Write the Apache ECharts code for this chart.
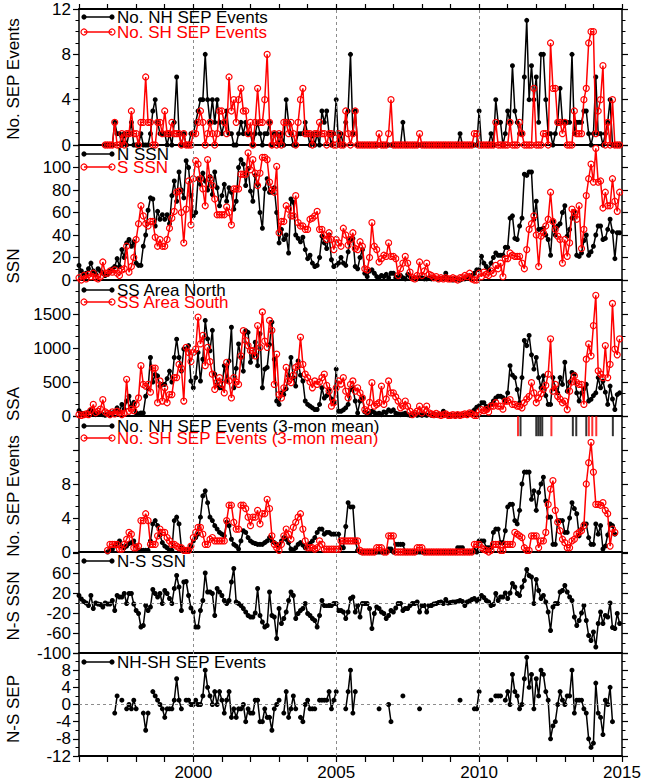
<!DOCTYPE html>
<html>
<head>
<meta charset="utf-8">
<script src="https://cdn.jsdelivr.net/npm/echarts@6.0.0/dist/echarts.min.js"></script>
<style>
  html, body { margin: 0; padding: 0; background: #fff; }
  #chart { width: 654px; height: 781px; }
</style>
</head>
<body>
<div id="chart"></div>
<script>
// monthly series, Jan 1996 .. Dec 2014 (12 values per row = one year)
const startYear = 1996
const refYears = [2000, 2005, 2010]

const nhSep = [
  null, null, null, null, null, null, null, null, null, null, null, 0,
  0, 0, 0, 2, 1, 1, 0, 1, 0, 1, 2, 0,
  0, 0, 1, 0, 0, 0, 1, 3, 4, 2, 1, 1,
  1, 0, 1, 0, 2, 6, 1, 0, 1, 0, 0, 1,
  1, 2, 3, 4, 4, 8, 4, 2, 4, 2, 4, 2,
  1, 2, 3, 1, 1, 0, 0, 1, 2, 1, 2, 1,
  1, 0, 1, 2, 1, 0, 1, 1, 2, 0, 1, 1,
  0, 1, 0, 4, 2, 1, 0, 0, 1, 1, 1, 2,
  1, 0, 1, 0, 1, 0, 3, 2, 3, 1, 0, 1,
  4, 0, 1, 0, 2, 3, 8, 1, 3, 0, 0, 0,
  0, 0, 0, 0, 0, 0, 0, 0, 0, 0, 0, 0,
  0, 0, 0, 0, 2, 0, 0, 0, 0, 0, 0, 0,
  0, 0, 0, 0, 0, 0, 0, 0, 0, 0, 0, 0,
  0, 0, 0, 0, 1, 0, 0, 0, 0, 0, 0, 0,
  3, 0, 0, 0, 0, 1, 0, 4, 2, 2, 0, 1,
  3, 2, 7, 3, 2, 1, 1, 6, 11, 4, 7, 4,
  6, 2, 8, 8, 4, 1, 1, 0, 1, 2, 5, 2,
  2, 2, 2, 8, 1, 2, 2, 2, 3, 3, 1, 0,
  1, 6, 1, 1, 0, 1, 2, 4, 0, 0, 0, 0
]
const shSep = [
  null, null, null, null, null, null, null, null, null, null, null, 0,
  0, 0, 0, 2, 0, 0, 1, 0, 1, 1, 3, 1,
  1, 0, 2, 2, 6, 2, 2, 0, 0, 2, 2, 1,
  3, 1, 1, 2, 1, 1, 1, 0, 1, 0, 0, 0,
  1, 1, 2, 3, 2, 0, 1, 2, 1, 0, 1, 3,
  3, 2, 1, 6, 3, 4, 2, 4, 5, 3, 3, 1,
  2, 0, 2, 5, 2, 2, 4, 8, 2, 0, 1, 0,
  1, 0, 2, 2, 1, 2, 1, 0, 2, 4, 5, 1,
  1, 1, 0, 1, 1, 2, 1, 1, 0, 1, 1, 0,
  0, 1, 0, 0, 3, 1, 0, 1, 3, 0, 0, 0,
  0, 0, 0, 0, 0, 0, 1, 0, 0, 0, 1, 4,
  0, 0, 0, 0, 0, 0, 0, 0, 0, 0, 0, 1,
  0, 0, 0, 0, 0, 0, 0, 0, 0, 0, 0, 0,
  0, 0, 0, 0, 0, 0, 0, 0, 0, 0, 1, 1,
  0, 0, 0, 0, 0, 0, 0, 2, 0, 0, 0, 0,
  0, 2, 0, 0, 0, 2, 1, 0, 0, 0, 0, 5,
  0, 0, 0, 1, 1, 0, 9, 5, 5, 2, 2, 1,
  2, 0, 0, 0, 3, 1, 1, 1, 4, 5, 9, 10,
  10, 1, 3, 4, 7, 0, 2, 0, 4, 0, 0, 0
]

const nSsn = [
  13, 8, 5, 6, 10, 15, 8, 5, 10, 8, 6, 4,
  5, 8, 10, 12, 19, 12, 27, 20, 33, 36, 30, 34,
  15, 13, 13, 30, 40, 62, 73, 72, 48, 61, 54, 58,
  54, 58, 50, 75, 88, 70, 96, 80, 73, 106, 100, 75,
  57, 60, 90, 85, 95, 88, 80, 92, 76, 96, 82, 66,
  75, 85, 70, 82, 78, 63, 70, 100, 107, 103, 84, 99,
  79, 70, 93, 85, 60, 46, 81, 90, 78, 78, 82, 60,
  33, 45, 36, 40, 24, 72, 69, 40, 37, 34, 38, 27,
  19, 22, 15, 12, 13, 20, 39, 33, 28, 40, 18, 12,
  13, 15, 20, 15, 13, 25, 36, 37, 12, 10, 20, 27,
  6, 3, 8, 9, 6, 3, 2, 4, 3, 5, 2, 6,
  6, 2, 3, 4, 2, 1, 5, 3, 1, 2, 1, 2,
  2, 1, 1, 2, 1, 2, 1, 1, 1, 2, 6, 1,
  1, 0, 1, 1, 0, 1, 1, 2, 3, 4, 6, 9,
  9, 21, 15, 12, 9, 15, 20, 24, 22, 22, 22, 29,
  29, 55, 57, 37, 36, 48, 55, 94, 93, 96, 96, 54,
  70, 45, 45, 46, 40, 36, 22, 52, 40, 48, 50, 60,
  66, 39, 45, 55, 61, 22, 21, 24, 35, 40, 22, 25,
  30, 40, 48, 48, 36, 37, 45, 54, 43, 19, 42, 42
]
const sSsn = [
  2, 0, 4, 1, 5, 3, 6, 2, 1, 3, 16, 6,
  6, 8, 7, 9, 6, 4, 9, 10, 30, 7, 12, 20,
  36, 50, 66, 57, 50, 48, 52, 52, 38, 30, 36, 30,
  30, 36, 46, 55, 61, 78, 79, 60, 33, 63, 88, 49,
  90, 106, 103, 90, 81, 66, 107, 90, 84, 72, 58, 58,
  58, 58, 65, 60, 49, 81, 81, 81, 94, 94, 94, 113,
  98, 107, 95, 84, 95, 109, 109, 107, 87, 80, 78, 101,
  42, 52, 52, 66, 63, 57, 57, 75, 51, 48, 48, 45,
  45, 54, 55, 57, 61, 45, 45, 40, 36, 42, 36, 27,
  36, 33, 30, 46, 40, 31, 36, 42, 28, 27, 34, 30,
  10, 9, 20, 51, 30, 27, 16, 19, 22, 21, 33, 21,
  21, 19, 4, 10, 15, 21, 15, 7, 2, 1, 4, 16,
  4, 8, 15, 5, 4, 2, 3, 1, 2, 1, 2, 1,
  1, 2, 1, 0, 2, 2, 4, 3, 6, 1, 0, 0,
  6, 3, 7, 5, 4, 8, 6, 13, 10, 15, 3, 19,
  19, 24, 22, 21, 21, 21, 15, 10, 27, 45, 50, 57,
  40, 12, 39, 42, 48, 54, 78, 52, 45, 39, 36, 15,
  36, 21, 33, 63, 60, 54, 66, 28, 45, 75, 90, 103,
  87, 117, 87, 88, 64, 78, 66, 66, 90, 70, 61, 78
]

const nSsa = [
  80, 40, 30, 20, 60, 90, 40, 20, 50, 30, 20, 10,
  30, 50, 40, 70, 120, 60, 170, 100, 220, 290, 150, 200,
  45, 30, 45, 45, 290, 400, 860, 500, 610, 590, 440, 465,
  465, 550, 660, 500, 860, 1130, 860, 660, 985, 985, 1035, 515,
  415, 565, 935, 515, 835, 1405, 1135, 960, 1260, 615, 465, 415,
  415, 740, 515, 810, 1305, 415, 700, 1060, 860, 660, 1255, 1230,
  790, 885, 1085, 740, 1210, 415, 690, 715, 1050, 1380, 835, 220,
  170, 340, 315, 400, 590, 860, 565, 440, 810, 600, 515, 220,
  170, 145, 120, 95, 95, 170, 415, 265, 300, 390, 250, 195,
  690, 70, 70, 90, 120, 170, 390, 415, 220, 45, 220, 265,
  60, 40, 30, 70, 50, 30, 40, 20, 60, 50, 90, 70,
  90, 40, 30, 20, 30, 40, 20, 10, 20, 30, 10, 20,
  10, 20, 10, 20, 10, 30, 10, 20, 20, 70, 20, 10,
  10, 5, 10, 20, 15, 10, 20, 30, 40, 60, 90, 130,
  150, 195, 195, 140, 120, 170, 220, 265, 290, 290, 270, 220,
  340, 740, 600, 565, 390, 195, 565, 1110, 1035, 1185, 900, 690,
  860, 565, 415, 590, 300, 170, 170, 565, 400, 340, 565, 465,
  790, 365, 500, 640, 615, 340, 220, 340, 400, 465, 220, 245,
  300, 340, 565, 415, 515, 350, 170, 440, 250, 95, 315, 340
]
const sSsa = [
  20, 10, 20, 30, 20, 80, 170, 50, 70, 100, 240, 60,
  40, 20, 60, 30, 70, 50, 20, 40, 540, 70, 100, 80,
  170, 265, 740, 465, 440, 465, 350, 705, 705, 195, 515, 220,
  415, 195, 315, 315, 565, 565, 760, 700, 220, 1010, 935, 800,
  935, 985, 1455, 1060, 1185, 740, 1010, 800, 615, 390, 500, 565,
  465, 340, 790, 515, 265, 565, 500, 465, 885, 1255, 1110, 1035,
  960, 960, 885, 1330, 1010, 1530, 1100, 1010, 1405, 1260, 465, 910,
  315, 265, 415, 715, 515, 490, 600, 715, 740, 1160, 760, 615,
  565, 500, 415, 515, 465, 500, 565, 615, 450, 365, 145, 195,
  415, 515, 470, 565, 365, 265, 465, 515, 365, 415, 340, 265,
  95, 70, 200, 490, 145, 170, 195, 440, 170, 250, 515, 340,
  340, 280, 220, 120, 145, 220, 145, 70, 20, 40, 70, 145,
  45, 90, 145, 45, 30, 20, 40, 20, 10, 20, 30, 10,
  10, 20, 10, 20, 10, 20, 30, 20, 45, 30, 10, 10,
  60, 95, 80, 95, 60, 145, 145, 195, 145, 145, 100, 220,
  220, 240, 170, 170, 145, 145, 120, 195, 250, 290, 490, 340,
  195, 265, 330, 390, 450, 615, 1135, 365, 465, 290, 250, 195,
  220, 95, 365, 500, 590, 490, 465, 465, 170, 835, 1060, 885,
  1330, 1775, 665, 615, 565, 1035, 565, 760, 1655, 985, 900, 1135
]

const nhSep3 = [
  null, null, null, null, null, null, null, null, null, null, null, null,
  0, 0.3, 0.3, 0.7, 1, 1.3, 0.7, 0.5, 0.7, 1, 1.1, 1.3,
  0.7, 0.2, 0.2, 0.2, 0.2, 0.2, 1.3, 3.3, 3.7, 3.1, 2, 1.1,
  0.7, 0.5, 0.2, 0.2, 3.7, 4.1, 3.3, 0.5, 0.2, 0.2, 0.2, 0.7,
  1.3, 1.7, 2.1, 4.1, 6.6, 7.2, 5.8, 4.1, 3.7, 3.1, 2.7, 2.3,
  2.1, 1.9, 3.5, 3.1, 1.5, 0.9, 0.7, 0.35, 1.3, 2.5, 2.3, 1.7,
  1.3, 1.1, 1, 0.9, 0.9, 0.9, 1.1, 1.3, 1.7, 1.3, 1.1, 0.9,
  0.7, 1.3, 1.7, 1.5, 1.1, 0.35, 0.2, 0.5, 0.9, 1.1, 0.8, 0.5,
  0.7, 1, 1.3, 1.7, 2.3, 2.7, 2.7, 2.1, 2.3, 2.3, 2.1, 2.1,
  2.1, 2.1, 0.5, 0.5, 3, 5.8, 5.3, 5.3, 1.3, 0.2, 0, 0,
  0, 0, 0, 0, 0, 0, 0, 0, 0, 0, 0.35, 0.35,
  0, 0.9, 0.9, 0.9, 0.9, 0, 0, 0, 0, 0, 0, 0,
  0, 0, 0, 0, 0, 0, 0, 0, 0, 0, 0, 0,
  0, 0, 0, 0.5, 0.5, 0.5, 0, 0, 0, 0, 0.2, 0,
  1.3, 1.3, 1.3, 0.5, 0.5, 0.5, 2.3, 2.7, 2.7, 1.1, 1.1, 2.5,
  5.3, 5.6, 5.6, 3.7, 3.3, 4.9, 8, 9.4, 9.4, 9.4, 6.2, 7.2,
  4.9, 7, 8, 8.8, 6, 4.1, 4.1, 0.9, 0.9, 3.7, 3.7, 3.7,
  2.3, 2.3, 4, 5.8, 5.1, 4.5, 1.9, 2.7, 3.3, 3.3, 1.7, 0.9,
  0.9, 3.3, 2.1, 3.1, 0.35, 0.7, 2, 3.3, 3.1, 2.1, null, null
]
const shSep3 = [
  null, null, null, null, null, null, null, null, null, null, null, null,
  0.2, 0.9, 0.9, 0.9, 0.9, 0.35, 0.35, 0.9, 1.5, 2.3, 2.1, 0.5,
  0.5, 0.7, 3.7, 3.7, 4.5, 3.7, 0.9, 0.9, 0.9, 1.9, 2.7, 2.3,
  2.3, 1.7, 1.3, 0.9, 0.9, 0.7, 0.5, 0.5, 0.2, 0.2, 0.2, 0.7,
  1.7, 2.3, 2.9, 2.9, 2.1, 0.9, 0.9, 1.5, 1.7, 1.3, 1.3, 1.3,
  1.3, 1.3, 3.7, 5.5, 5.5, 3.5, 2.7, 2.7, 5.5, 5.5, 5.1, 4.1,
  3.1, 4.1, 4.1, 4.9, 3.3, 4.5, 4.5, 6.2, 5.1, 1.9, 0.9, 0.5,
  0.2, 0.9, 1.9, 2.7, 2.1, 1.5, 2.9, 3.5, 4.1, 4.5, 2.7, 1.3,
  0.5, 0.5, 0.5, 0.35, 0.5, 1.3, 0.9, 0.35, 0.35, 0.35, 0.35, 0.35,
  0.35, 0.35, 1.3, 1.3, 1.3, 1.3, 1.3, 1.3, 1.3, 1.3, 0.2, 0,
  0, 0, 0, 0, 0, 0.5, 0.5, 0.5, 0, 0, 1.9, 1.9,
  1.9, 0, 0, 0, 0, 0, 0, 0, 0, 0, 0.5, 0.5,
  0.5, 0, 0, 0, 0, 0, 0, 0, 0, 0, 0, 0,
  0, 0, 0, 0, 0, 0, 0, 0, 0, 0, 0.9, 0.9,
  0.9, 0.5, 0.3, 0.2, 0, 0.2, 0.9, 0.9, 0.9, 0.2, 0.2, 0.9,
  0.9, 0.9, 0.9, 2.3, 2.1, 1.9, 1.7, 0.5, 0.2, 0.2, 1.9, 1.9,
  1.9, 0.5, 1.3, 1.3, 2.3, 5.6, 7.4, 8.4, 4.9, 3.5, 2.5, 1.5,
  1.1, 0.5, 0.5, 1.3, 1.5, 2.1, 2.3, 2.5, 3.1, 8, 10.5, 12.9,
  9.4, 5.6, 5.6, 5.5, 5.8, 4.9, 4.5, 0.7, 2.7, 2.3, null, null
]
// event marks along the top of the 3-month panel (decimal year)
const nhEventTimes = [2011.45, 2012.0, 2012.07, 2012.14, 2012.21, 2013.28, 2013.4, 2013.75, 2014.68]
const shEventTimes = [2011.36, 2012.53, 2013.84, 2013.96, 2014.1]
const eventLevel = 14.8

const nsSsn = [
  15, 8, 3, 0, -5, 15, -11, 0, -2, -3, -8, 0,
  -2, -2, 5, -15, 15, 12, 12, 19, -1, 19, 19, -2,
  -15, -21, -48, -45, -5, -15, -8, 27, 19, 12, 19, -1,
  25, 19, 9, -1, 29, 55, 32, -15, 42, 43, 15, -10,
  -18, -48, -48, -15, 5, 60, 22, 22, 19, -25, 29, 22,
  15, 5, -1, 5, 42, 69, 2, -1, -5, -11, -18, -25,
  -28, -28, -20, 29, -25, -38, -48, -45, 22, -25, -28, -71,
  -11, -41, -31, -18, 5, 22, 15, -31, -21, -15, -11, -1,
  -21, -25, -31, -35, -48, -25, 5, -5, -5, -5, -5, -1,
  -1, -15, -15, -18, -31, -18, 9, 12, -18, -5, -28, -1,
  -1, -1, -11, -51, -21, -8, -11, -18, -21, -31, -25, -15,
  -18, -10, -1, -1, -15, -11, -11, -5, -1, -1, 2, -18,
  -5, -5, -18, -5, -5, -2, -1, 1, 2, -1, 7, 0,
  1, 2, 2, 3, 5, 3, -5, 2, 4, 7, 9, 5,
  8, 15, 11, 5, 2, -5, -3, 19, 5, 12, 12, 20,
  9, 20, 39, 32, 19, 15, 32, 45, 67, 55, 52, -1,
  47, 25, 9, 15, 2, -18, -55, -8, -1, -1, 22, 25,
  35, 22, 12, 5, -28, -45, -35, -20, -5, -35, -65, -75,
  -58, -88, -41, -18, -41, -25, -28, 0, -49, -51, -21, -41
]
const nsSep = [
  null, null, null, null, null, null, null, null, null, null, null, null,
  null, null, null, -2, 2, null, 1, null, -1, 0, -1, 1,
  -1, null, null, -2, -6, -2, null, 3, 2, 1, 0, -1,
  -3, -1, -1, -1, 1, 6, 1, -1, null, 1, 1, 0,
  0, 1, 0, 0, 2, 8, 4, 2, 0, 3, 0, 3,
  1, -2, 1, 3, -3, -1, -3, -1, -1, 0, -4, -1,
  -2, -2, 1, 1, -4, -4, -1, -3, -3, -6, -1, 0,
  1, null, -2, 3, -3, -1, 2, -1, null, -3, -4, 0,
  1, -1, -1, -1, null, 1, 1, 1, 1, 3, -1, 1,
  3, null, null, null, -1, 3, 8, -2, 3, null, null, null,
  null, null, null, null, null, null, -1, null, null, null, 0, -4,
  null, null, null, null, 2, null, null, null, null, null, null, -1,
  null, null, null, null, null, null, null, null, null, null, null, null,
  null, null, null, null, 1, null, null, null, null, null, -1, -1,
  3, null, null, null, null, 1, null, 2, 2, 2, null, 1,
  3, 0, 7, 3, 2, -1, 0, 6, 11, 4, 7, -1,
  6, 2, 8, 7, 3, 1, -8, -5, -4, 0, 3, 1,
  0, 2, 2, 8, -2, 1, 1, 1, -1, -2, -8, -10,
  -9, 5, -2, -3, -7, 1, 0, 4, -4, null, null, null
]

const FONT = 'Liberation Sans, Arial, Helvetica, sans-serif'
const toPairs = arr => arr.map((v, i) => [startYear + i / 12, v])

// panel layout (px) and y-axis setup
const panels = [
  { top: 9, height: 136, min: 0, max: 12, interval: 4, minor: 4, hide: [], title: 'No. SEP Events', titleY: 79 },
  { top: 145, height: 135, min: 0, max: 120, interval: 20, minor: 2, hide: [120], title: 'SSN', titleY: 266 },
  { top: 280, height: 136, min: 0, max: 2000, interval: 500, minor: 3, hide: [2000], title: 'SSA', titleY: 404 },
  { top: 416, height: 136, min: 0, max: 16, interval: 4, minor: 3, hide: [12, 16], title: 'No. SEP Events', titleY: 496 },
  { top: 553, height: 100, min: -100, max: 100, interval: 40, minor: 2, hide: [100], title: 'N-S SSN', titleY: 606 },
  { top: 653, height: 103, min: -12, max: 12, interval: 4, minor: 2, hide: [12], title: 'N-S SEP', titleY: 709 }
]

const chart = echarts.init(document.getElementById('chart'), null, { renderer: 'svg' })

const grid = panels.map(p => ({ left: 79, width: 543, top: p.top, height: p.height }))

const xAxis = []
panels.forEach((p, g) => {
  const last = g === panels.length - 1
  xAxis.push({
    type: 'value', gridIndex: g, min: 1996, max: 2015, interval: 1, position: 'bottom',
    axisLine: { show: true, onZero: false, lineStyle: { color: '#000', width: 2 } },
    axisTick: { show: last, inside: false, length: 6, lineStyle: { color: '#000', width: 1.2 } },
    axisLabel: {
      show: last, margin: 8, color: '#000', fontSize: 17, fontFamily: FONT,
      formatter: v => (v % 5 === 0 ? String(v) : '')
    },
    splitLine: { show: false }
  })
})
// top frame of the first panel
xAxis.push({
  type: 'value', gridIndex: 0, min: 1996, max: 2015, interval: 1, position: 'top',
  axisLine: { show: true, onZero: false, lineStyle: { color: '#000', width: 2 } },
  axisTick: { show: true, inside: false, length: 5, lineStyle: { color: '#000', width: 1.2 } },
  axisLabel: { show: false }, splitLine: { show: false }
})

const yAxis = []
panels.forEach((p, g) => {
  const common = {
    type: 'value', gridIndex: g, min: p.min, max: p.max, interval: p.interval,
    axisLine: { show: true, onZero: false, lineStyle: { color: '#000', width: 1.5 } },
    axisTick: { show: true, inside: false, length: 6, lineStyle: { color: '#000', width: 1.2 } },
    minorTick: { show: true, splitNumber: p.minor, length: 3.5, lineStyle: { color: '#000', width: 1 } },
    splitLine: { show: false }
  }
  yAxis.push(Object.assign({}, common, {
    position: 'left',
    axisLabel: {
      show: true, margin: 8, color: '#000', fontSize: 17, fontFamily: FONT,
      formatter: v => (p.hide.includes(v) ? '' : String(v))
    }
  }))
  yAxis.push(Object.assign({}, common, { position: 'right', axisLabel: { show: false } }))
})

function blackLine (g, data) {
  return {
    type: 'line', xAxisIndex: g, yAxisIndex: g * 2, data: toPairs(data), z: 3,
    symbol: 'circle', symbolSize: 5, showSymbol: true, showAllSymbol: true, connectNulls: false,
    lineStyle: { color: '#000', width: 1.5 }, itemStyle: { color: '#000' }
  }
}
function redLine (g, data) {
  return {
    type: 'line', xAxisIndex: g, yAxisIndex: g * 2, data: toPairs(data), z: 4,
    symbol: 'circle', symbolSize: 6, showSymbol: true, showAllSymbol: true, connectNulls: false,
    lineStyle: { color: '#ff0000', width: 1.5 },
    itemStyle: { color: 'rgba(255,255,255,0)', borderColor: '#ff0000', borderWidth: 1.2 }
  }
}
function guides (g, zeroLine) {
  const data = refYears.map(y => ({ xAxis: y }))
  if (zeroLine) data.push({ yAxis: 0 })
  return {
    type: 'line', xAxisIndex: g, yAxisIndex: g * 2, data: [], z: 1,
    markLine: {
      silent: true, symbol: 'none', label: { show: false }, animation: false,
      lineStyle: { color: '#8c8c8c', type: [3, 3], width: 1 }, data
    }
  }
}
function eventMarks (times, color) {
  return {
    type: 'scatter', xAxisIndex: 3, yAxisIndex: 6, z: 5,
    data: times.map(t => [t, eventLevel]),
    symbol: 'rect', symbolSize: [2, 20], itemStyle: { color }
  }
}

const series = [
  guides(0), blackLine(0, nhSep), redLine(0, shSep),
  guides(1), blackLine(1, nSsn), redLine(1, sSsn),
  guides(2), blackLine(2, nSsa), redLine(2, sSsa),
  guides(3), blackLine(3, nhSep3), redLine(3, shSep3),
  eventMarks(nhEventTimes, '#000'), eventMarks(shEventTimes, '#ff0000'),
  guides(4, true), blackLine(4, nsSsn),
  guides(5, true), blackLine(5, nsSep)
]

// legends drawn as graphic rows inside each panel
const legendRows = [
  { y: 17, text: 'No. NH SEP Events', color: '#000', filled: true },
  { y: 32, text: 'No. SH SEP Events', color: '#ff0000', filled: false },
  { y: 154, text: 'N SSN', color: '#000', filled: true },
  { y: 167, text: 'S SSN', color: '#ff0000', filled: false },
  { y: 290, text: 'SS Area North', color: '#000', filled: true },
  { y: 302, text: 'SS Area South', color: '#ff0000', filled: false },
  { y: 426, text: 'No. NH SEP Events (3-mon mean)', color: '#000', filled: true },
  { y: 438, text: 'No. SH SEP Events (3-mon mean)', color: '#ff0000', filled: false },
  { y: 561, text: 'N-S SSN', color: '#000', filled: true },
  { y: 662, text: 'NH-SH SEP Events', color: '#000', filled: true }
]
const graphic = []
legendRows.forEach(r => {
  const mark = cx => (r.filled
    ? { type: 'circle', shape: { cx, cy: r.y, r: 2.6 }, style: { fill: r.color } }
    : { type: 'circle', shape: { cx, cy: r.y, r: 3 }, style: { fill: 'none', stroke: r.color, lineWidth: 1.2 } })
  graphic.push({ type: 'line', shape: { x1: 84, y1: r.y, x2: 112, y2: r.y }, style: { stroke: r.color, lineWidth: 1.5 }, z: 10 })
  graphic.push(Object.assign(mark(84), { z: 10 }))
  graphic.push(Object.assign(mark(112), { z: 10 }))
  graphic.push({
    type: 'text', x: 117, y: r.y, z: 10,
    style: { text: r.text, fill: r.color, font: '17px ' + FONT, align: 'left', verticalAlign: 'middle' }
  })
})
panels.forEach(p => {
  graphic.push({
    type: 'text', x: 13, y: p.titleY, rotation: Math.PI / 2,
    style: { text: p.title, fill: '#000', font: '17px ' + FONT, align: 'center', verticalAlign: 'middle' }
  })
})

chart.setOption({
  animation: false,
  backgroundColor: '#fff',
  grid, xAxis, yAxis, series, graphic
})
</script>
</body>
</html>
